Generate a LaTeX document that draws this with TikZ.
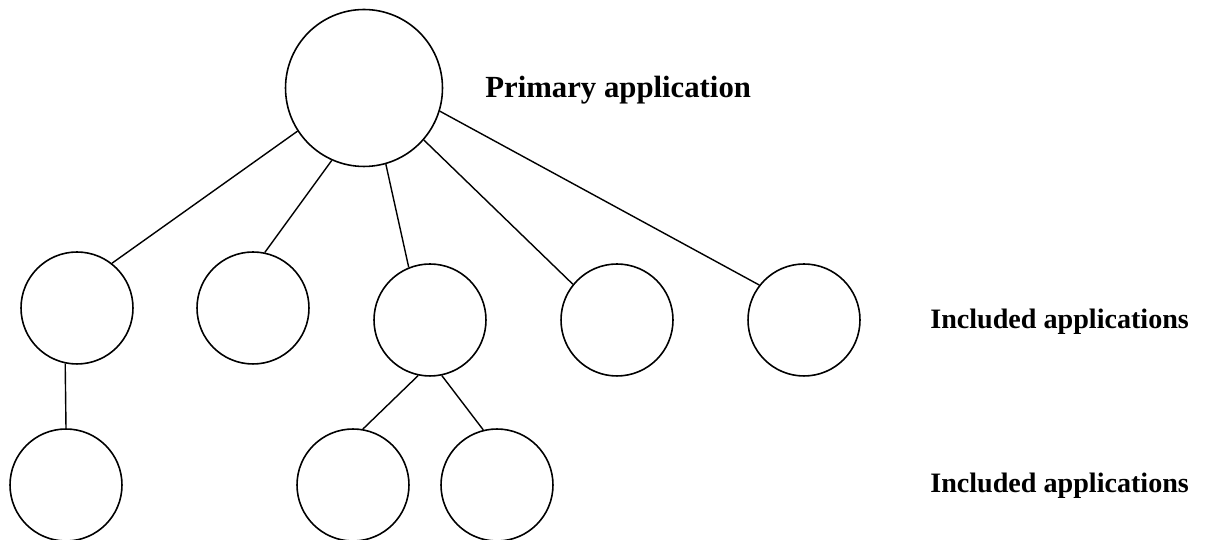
\documentclass[tikz,border=0pt]{standalone}
\usepackage{fontspec}
\setmainfont{Liberation Serif}
\usepackage{tikz}

\tikzset{
  app/.style={circle,draw,line width=0.9pt,minimum size=2.24cm,inner sep=0pt},
  mainapp/.style={app,minimum size=3.14cm},
  link/.style={line width=0.8pt},
  lbl/.style={anchor=base west,inner sep=0pt,font=\fontsize{17.5}{19}\selectfont\bfseries},
  inclbl/.style={lbl,font=\fontsize{16}{18}\selectfont\bfseries}
}

\begin{document}
\begin{tikzpicture}[x=0.02cm,y=0.02cm]
        \useasboundingbox (0,0) rectangle (1224,540);
        % primary
        \node[mainapp] (primary) at (364,452) {};
        \node[lbl] (plabel) at (485,442) {Primary application};
        % included, first row
        \node[app] (inc1) at (77,232) {};
        \node[app] (inc2) at (253,232) {};
        \node[app] (inc3) at (430,220) {};
        \node[app] (inc4) at (617,220) {};
        \node[app] (inc5) at (804,220) {};
        \node[inclbl] (ilabel1) at (930,211) {Included applications};
        % included, second row
        \node[app] (sub1) at (66,55) {};
        \node[app] (sub2) at (353,55) {};
        \node[app] (sub3) at (497,55) {};
        \node[inclbl] (ilabel2) at (930,47) {Included applications};
        % links
        \draw[link] (primary.213) -- (inc1.52);
        \draw[link] (primary.246) -- (inc2.78);
        \draw[link] (primary.286) -- (inc3.112);
        \draw[link] (primary.319) -- (inc4.141);
        \draw[link] (primary.343) -- (inc5.142);
        \draw[link] (inc1.258.7) -- (sub1.90);
        \draw[link] (inc3.258) -- (sub2.80);
        \draw[link] (inc3.282) -- (sub3.104);
    \end{tikzpicture}
\end{document}
